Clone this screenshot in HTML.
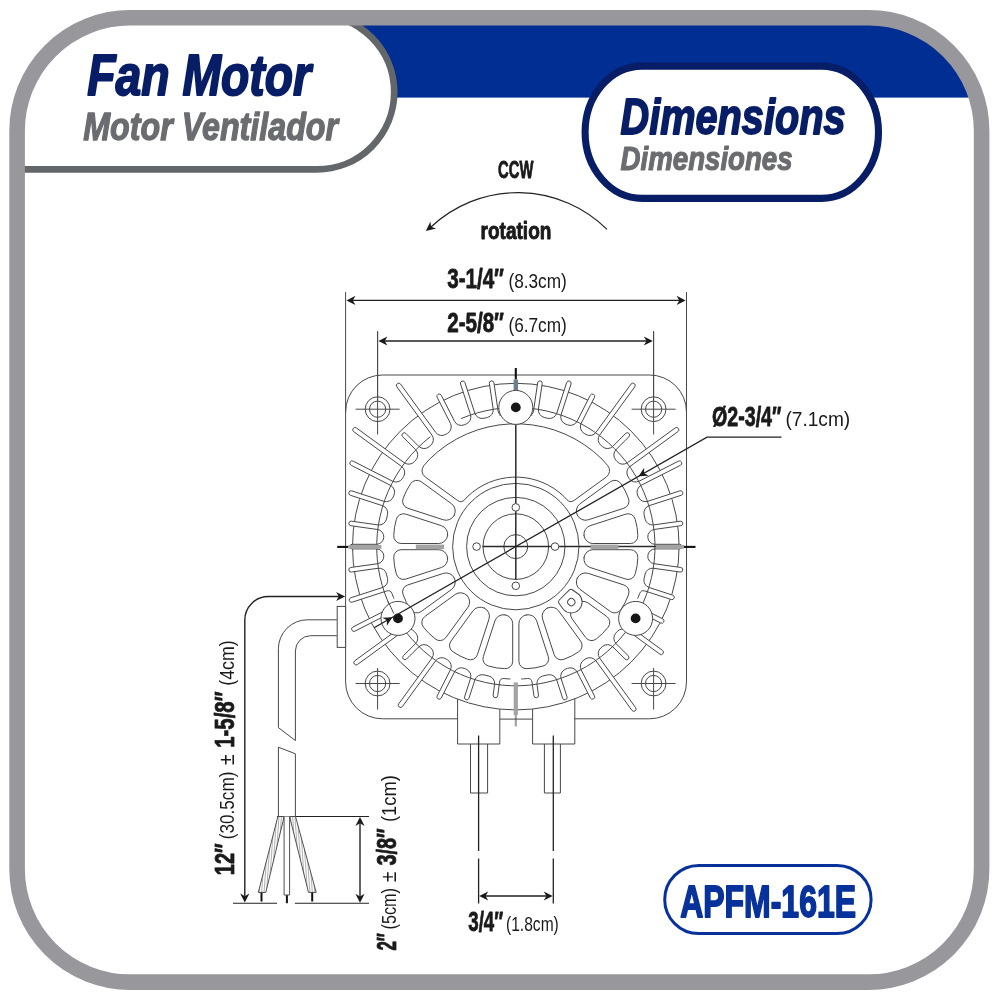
<!DOCTYPE html>
<html><head><meta charset="utf-8"><title>Fan Motor Dimensions</title>
<style>
html,body{margin:0;padding:0;background:#fff;}
body{width:1000px;height:1000px;overflow:hidden;}
svg{display:block;font-family:"Liberation Sans",sans-serif;will-change:transform;}
</style></head><body>
<svg width="1000" height="1000" viewBox="0 0 1000 1000">
<rect x="0" y="0" width="1000" height="1000" fill="#ffffff"/>
<defs><clipPath id="inner"><rect x="17.1" y="17.8" width="964.5" height="964.3" rx="113" ry="113"/></clipPath></defs>
<g clip-path="url(#inner)">
<rect x="10" y="10" width="980" height="87.6" fill="#002e93"/>
<rect x="-100" y="14.8" width="494.2" height="154.6" rx="77.3" ry="77.3" fill="#ffffff" stroke="#63676a" stroke-width="6.7"/>
</g>
<rect x="585.1" y="66.1" width="293.4" height="132.3" rx="57" ry="66.1" fill="#ffffff" stroke="#071d66" stroke-width="7.1"/>
<rect x="17.1" y="17.8" width="964.5" height="964.3" rx="113" ry="113" fill="none" stroke="#98979b" stroke-width="15.6"/>
<text x="87.2" y="95" font-size="58" font-weight="bold" font-style="italic" fill="#071d66" text-anchor="start" textLength="223.8" lengthAdjust="spacingAndGlyphs"  stroke="#071d66" stroke-width="2" stroke-linejoin="round">Fan Motor</text>
<text x="83.2" y="140.2" font-size="38" font-weight="bold" font-style="italic" fill="#6b6c6f" text-anchor="start" textLength="254.9" lengthAdjust="spacingAndGlyphs"  stroke="#6b6c6f" stroke-width="1.3" stroke-linejoin="round">Motor Ventilador</text>
<text x="620.5" y="133.7" font-size="49.2" font-weight="bold" font-style="italic" fill="#071d66" text-anchor="start" textLength="225" lengthAdjust="spacingAndGlyphs"  stroke="#071d66" stroke-width="1.8" stroke-linejoin="round">Dimensions</text>
<text x="620.6" y="170.4" font-size="34" font-weight="bold" font-style="italic" fill="#6b6c6f" text-anchor="start" textLength="172" lengthAdjust="spacingAndGlyphs"  stroke="#6b6c6f" stroke-width="1.2" stroke-linejoin="round">Dimensiones</text>
<rect x="664.7" y="865.4" width="206.4" height="68.2" rx="34.1" ry="34.1" fill="#ffffff" stroke="#08329b" stroke-width="3"/>
<text x="680.2" y="917" font-size="44.4" font-weight="bold" font-style="normal" fill="#08329b" text-anchor="start" textLength="175.8" lengthAdjust="spacingAndGlyphs"  stroke="#08329b" stroke-width="1.8" stroke-linejoin="round">APFM-161E</text>
<g fill="none" stroke="#484848" stroke-width="1" stroke-linecap="round" stroke-linejoin="round">
<path d="M457.6 718.8 L382.6 718.8 A37 37 0 0 1 345.6 681.8 L345.6 412 A37 37 0 0 1 382.6 375 L649.5 375 A37 37 0 0 1 686.5 412 L686.5 681.8 A37 37 0 0 1 649.5 718.8 L574.8 718.8" fill="none" stroke="#484848" stroke-width="1" />
<circle cx="515.8" cy="546.6" r="163.3" fill="none" stroke="#484848" stroke-width="1"/>
<path d="M498.72 415.21 L493.61 380.56 L489.06 381.23 L494.17 415.88 Z" fill="#fff" stroke="none"/>
<path d="M477.05 419.89 L464.22 380.41 L459.84 381.83 L472.67 421.31 Z" fill="#fff" stroke="none"/>
<path d="M457.7 427.52 L440.22 393.19 L436.12 395.28 L453.61 429.6 Z" fill="#fff" stroke="none"/>
<path d="M439.79 438.07 L399.22 382.23 L395.5 384.93 L436.07 440.77 Z" fill="#fff" stroke="none"/>
<path d="M423.75 451.3 L404.29 431.84 L401.04 435.09 L420.5 454.55 Z" fill="#fff" stroke="none"/>
<path d="M409.97 466.87 L354.54 426.59 L351.84 430.32 L407.27 470.59 Z" fill="#fff" stroke="none"/>
<path d="M398.8 484.41 L351.12 460.11 L349.03 464.21 L396.72 488.5 Z" fill="#fff" stroke="none"/>
<path d="M390.51 503.47 L349.6 490.18 L348.18 494.55 L389.09 507.85 Z" fill="#fff" stroke="none"/>
<path d="M384.93 525.88 L349.16 520.86 L348.52 525.41 L384.29 530.44 Z" fill="#fff" stroke="none"/>
<path d="M383.32 544.3 L349.8 544.3 L349.8 548.9 L383.32 548.9 Z" fill="#fff" stroke="none"/>
<path d="M384.29 562.76 L348.52 567.79 L349.16 572.34 L384.93 567.32 Z" fill="#fff" stroke="none"/>
<path d="M389.09 585.35 L348.65 598.49 L350.08 602.87 L390.51 589.73 Z" fill="#fff" stroke="none"/>
<path d="M499.65 415.09 L503.22 414.7 L506.79 414.41 L502.76 414.81 A4.25 4.25 0 0 1 498.13 411.2 L493.94 382.84 A2.3 2.3 0 0 0 491.33 380.9 L491.33 380.9 A2.3 2.3 0 0 0 489.39 383.51 L493.15 408.96 A7.6 7.6 0 0 1 487.37 417.47 L483.85 418.3 A7.6 7.6 0 0 1 474.89 413.25 L464.93 382.59 A2.3 2.3 0 0 0 462.03 381.12 L462.03 381.12 A2.3 2.3 0 0 0 460.55 384.01 L470.5 414.63 A7.6 7.6 0 0 1 466.18 424 L464.2 424.83 A7.6 7.6 0 0 1 454.52 421.26 L441.26 395.24 A2.3 2.3 0 0 0 438.17 394.24 L438.17 394.24 A2.3 2.3 0 0 0 437.16 397.33 L450.42 423.34 A7.6 7.6 0 0 1 447.62 433.27 L445.78 434.4 A7.6 7.6 0 0 1 435.66 432.39 L400.57 384.09 A2.3 2.3 0 0 0 397.36 383.58 L397.36 383.58 A2.3 2.3 0 0 0 396.85 386.8 L431.94 435.09 A7.6 7.6 0 0 1 430.73 445.34 L429.09 446.73 A7.6 7.6 0 0 1 418.78 446.33 L405.92 433.46 A2.3 2.3 0 0 0 402.66 433.46 L402.66 433.46 A2.3 2.3 0 0 0 402.66 436.72 L415.53 449.58 A7.6 7.6 0 0 1 415.93 459.89 L414.54 461.53 A7.6 7.6 0 0 1 404.29 462.74 L356.4 427.95 A2.3 2.3 0 0 0 353.19 428.46 L353.19 428.46 A2.3 2.3 0 0 0 353.7 431.67 L401.59 466.46 A7.6 7.6 0 0 1 403.6 476.58 L402.47 478.42 A7.6 7.6 0 0 1 392.54 481.22 L353.17 461.15 A2.3 2.3 0 0 0 350.07 462.16 L350.07 462.16 A2.3 2.3 0 0 0 351.08 465.25 L390.46 485.32 A7.6 7.6 0 0 1 394.03 495 L393.2 496.98 A7.6 7.6 0 0 1 383.83 501.3 L351.79 490.89 A2.3 2.3 0 0 0 348.89 492.37 L348.89 492.37 A2.3 2.3 0 0 0 350.37 495.27 L382.47 505.7 A7.6 7.6 0 0 1 387.53 514.63 L386.5 519.1 A7.6 7.6 0 0 1 378.03 524.92 L351.44 521.18 A2.3 2.3 0 0 0 348.84 523.14 L348.84 523.14 A2.3 2.3 0 0 0 350.8 525.73 L377.41 529.47 A7.45 7.45 0 0 1 383.8 537.37 L383.8 537.37 A7.45 7.45 0 0 1 376.37 544.3 L352.1 544.3 A2.3 2.3 0 0 0 349.8 546.6 L349.8 546.6 A2.3 2.3 0 0 0 352.1 548.9 L376.37 548.9 A7.45 7.45 0 0 1 383.8 555.83 L383.8 555.83 A7.45 7.45 0 0 1 377.41 563.73 L350.8 567.47 A2.3 2.3 0 0 0 348.84 570.06 L348.84 570.06 A2.3 2.3 0 0 0 351.44 572.02 L378.03 568.28 A7.6 7.6 0 0 1 386.5 574.1 L387.53 578.57 A7.6 7.6 0 0 1 382.47 587.5 L350.84 597.78 A2.3 2.3 0 0 0 349.37 600.68 L349.37 600.68 A2.3 2.3 0 0 0 352.26 602.15 L386.66 590.98 A4.25 4.25 0 0 1 391.95 593.52 L393.39 597.31 L393.61 597.84 L393.83 598.37 " fill="none" stroke="#484848" stroke-width="1" />
<path d="M396.72 604.7 L350.81 628.08 L352.9 632.18 L398.8 608.79 Z" fill="#fff" stroke="none"/>
<path d="M396.72 604.7 L352.86 627.04 A2.3 2.3 0 0 0 351.85 630.13 L351.85 630.13 A2.3 2.3 0 0 0 354.95 631.14 L398.8 608.79 " fill="none" stroke="#484848" stroke-width="1" />
<path d="M407.27 622.61 L352.89 662.12 L355.59 665.84 L409.97 626.33 Z" fill="#fff" stroke="none"/>
<path d="M420.5 638.65 L401.74 657.4 L405 660.66 L423.75 641.9 Z" fill="#fff" stroke="none"/>
<path d="M436.07 652.43 L397.38 705.68 L401.1 708.38 L439.79 655.13 Z" fill="#fff" stroke="none"/>
<path d="M453.61 663.6 L436.12 697.92 L440.22 700.01 L457.7 665.68 Z" fill="#fff" stroke="none"/>
<path d="M472.67 671.89 L463.86 699.01 L468.24 700.43 L477.05 673.31 Z" fill="#fff" stroke="none"/>
<path d="M495.54 677.54 L492.82 697.38 L497.38 698 L500.1 678.17 Z" fill="#fff" stroke="none"/>
<path d="M407.93 623.54 L405.31 619.73 L402.83 615.83 L405.05 619.22 A4.25 4.25 0 0 1 403.99 624.99 L354.75 660.77 A2.3 2.3 0 0 0 354.24 663.98 L354.24 663.98 A2.3 2.3 0 0 0 357.45 664.49 L404.29 630.46 A7.6 7.6 0 0 1 414.54 631.67 L415.93 633.31 A7.6 7.6 0 0 1 415.53 643.62 L403.37 655.78 A2.3 2.3 0 0 0 403.37 659.03 L403.37 659.03 A2.3 2.3 0 0 0 406.62 659.03 L418.78 646.87 A7.6 7.6 0 0 1 429.09 646.47 L430.73 647.86 A7.6 7.6 0 0 1 431.94 658.11 L398.73 703.82 A2.3 2.3 0 0 0 399.24 707.03 L399.24 707.03 A2.3 2.3 0 0 0 402.45 706.52 L435.66 660.81 A7.6 7.6 0 0 1 445.78 658.8 L447.62 659.93 A7.6 7.6 0 0 1 450.42 669.86 L437.16 695.87 A2.3 2.3 0 0 0 438.17 698.96 L438.17 698.96 A2.3 2.3 0 0 0 441.26 697.96 L454.52 671.94 A7.6 7.6 0 0 1 464.2 668.37 L466.18 669.2 A7.6 7.6 0 0 1 470.5 678.57 L464.57 696.82 A2.3 2.3 0 0 0 466.05 699.72 L466.05 699.72 A2.3 2.3 0 0 0 468.95 698.24 L474.9 679.92 A7.6 7.6 0 0 1 483.83 674.86 L488.77 675.99 A7.6 7.6 0 0 1 494.6 684.43 L493.14 695.1 A2.3 2.3 0 0 0 495.1 697.69 L495.1 697.69 A2.3 2.3 0 0 0 497.69 695.72 L499.55 682.18 A4.25 4.25 0 0 1 504.14 678.52 L508.17 678.88 L509.1 678.93 L510.02 678.97 " fill="none" stroke="#484848" stroke-width="1" />
<path d="M641.09 589.73 L673.44 600.24 L674.86 595.86 L642.51 585.35 Z" fill="#fff" stroke="none"/>
<path d="M646.67 567.32 L682.44 572.34 L683.08 567.79 L647.31 562.76 Z" fill="#fff" stroke="none"/>
<path d="M648.28 548.9 L681.8 548.9 L681.8 544.3 L648.28 544.3 Z" fill="#fff" stroke="none"/>
<path d="M647.31 530.44 L683.08 525.41 L682.44 520.86 L646.67 525.88 Z" fill="#fff" stroke="none"/>
<path d="M642.51 507.85 L683.42 494.55 L682 490.18 L641.09 503.47 Z" fill="#fff" stroke="none"/>
<path d="M634.88 488.5 L682.57 464.21 L680.48 460.11 L632.8 484.41 Z" fill="#fff" stroke="none"/>
<path d="M624.33 470.59 L679.76 430.32 L677.06 426.59 L621.63 466.87 Z" fill="#fff" stroke="none"/>
<path d="M611.1 454.55 L630.56 435.09 L627.31 431.84 L607.85 451.3 Z" fill="#fff" stroke="none"/>
<path d="M595.53 440.77 L636.1 384.93 L632.38 382.23 L591.81 438.07 Z" fill="#fff" stroke="none"/>
<path d="M577.99 429.6 L595.48 395.28 L591.38 393.19 L573.9 427.52 Z" fill="#fff" stroke="none"/>
<path d="M558.93 421.31 L571.76 381.83 L567.38 380.41 L554.55 419.89 Z" fill="#fff" stroke="none"/>
<path d="M537.43 415.88 L542.54 381.23 L537.99 380.56 L532.88 415.21 Z" fill="#fff" stroke="none"/>
<path d="M637.77 598.37 L637.99 597.84 L638.21 597.31 L639.65 593.52 A4.25 4.25 0 0 1 644.94 590.98 L671.25 599.53 A2.3 2.3 0 0 0 674.15 598.05 L674.15 598.05 A2.3 2.3 0 0 0 672.67 595.15 L649.13 587.5 A7.6 7.6 0 0 1 644.07 578.57 L645.1 574.1 A7.6 7.6 0 0 1 653.57 568.28 L680.16 572.02 A2.3 2.3 0 0 0 682.76 570.06 L682.76 570.06 A2.3 2.3 0 0 0 680.8 567.47 L654.19 563.73 A7.45 7.45 0 0 1 647.8 555.83 L647.8 555.83 A7.45 7.45 0 0 1 655.23 548.9 L679.5 548.9 A2.3 2.3 0 0 0 681.8 546.6 L681.8 546.6 A2.3 2.3 0 0 0 679.5 544.3 L655.23 544.3 A7.45 7.45 0 0 1 647.8 537.37 L647.8 537.37 A7.45 7.45 0 0 1 654.19 529.47 L680.8 525.73 A2.3 2.3 0 0 0 682.76 523.14 L682.76 523.14 A2.3 2.3 0 0 0 680.16 521.18 L653.57 524.92 A7.6 7.6 0 0 1 645.1 519.1 L644.07 514.63 A7.6 7.6 0 0 1 649.13 505.7 L681.23 495.27 A2.3 2.3 0 0 0 682.71 492.37 L682.71 492.37 A2.3 2.3 0 0 0 679.81 490.89 L647.77 501.3 A7.6 7.6 0 0 1 638.4 496.98 L637.57 495 A7.6 7.6 0 0 1 641.14 485.32 L680.52 465.25 A2.3 2.3 0 0 0 681.53 462.16 L681.53 462.16 A2.3 2.3 0 0 0 678.43 461.15 L639.06 481.22 A7.6 7.6 0 0 1 629.13 478.42 L628 476.58 A7.6 7.6 0 0 1 630.01 466.46 L677.9 431.67 A2.3 2.3 0 0 0 678.41 428.46 L678.41 428.46 A2.3 2.3 0 0 0 675.2 427.95 L627.31 462.74 A7.6 7.6 0 0 1 617.06 461.53 L615.67 459.89 A7.6 7.6 0 0 1 616.07 449.58 L628.94 436.72 A2.3 2.3 0 0 0 628.94 433.46 L628.94 433.46 A2.3 2.3 0 0 0 625.68 433.46 L612.82 446.33 A7.6 7.6 0 0 1 602.51 446.73 L600.87 445.34 A7.6 7.6 0 0 1 599.66 435.09 L634.75 386.8 A2.3 2.3 0 0 0 634.24 383.58 L634.24 383.58 A2.3 2.3 0 0 0 631.03 384.09 L595.94 432.39 A7.6 7.6 0 0 1 585.82 434.4 L583.98 433.27 A7.6 7.6 0 0 1 581.18 423.34 L594.44 397.33 A2.3 2.3 0 0 0 593.43 394.24 L593.43 394.24 A2.3 2.3 0 0 0 590.34 395.24 L577.08 421.26 A7.6 7.6 0 0 1 567.4 424.83 L565.42 424 A7.6 7.6 0 0 1 561.1 414.63 L571.05 384.01 A2.3 2.3 0 0 0 569.57 381.12 L569.57 381.12 A2.3 2.3 0 0 0 566.67 382.59 L556.71 413.25 A7.6 7.6 0 0 1 547.75 418.3 L544.23 417.47 A7.6 7.6 0 0 1 538.45 408.96 L542.21 383.51 A2.3 2.3 0 0 0 540.27 380.9 L540.27 380.9 A2.3 2.3 0 0 0 537.66 382.84 L533.47 411.2 A4.25 4.25 0 0 1 528.84 414.81 L524.81 414.41 L528.38 414.7 L531.95 415.09 " fill="none" stroke="#484848" stroke-width="1" />
<path d="M632.8 608.79 L662.66 624.01 L664.75 619.91 L634.88 604.7 Z" fill="#fff" stroke="none"/>
<path d="M632.8 608.79 L660.61 622.97 A2.3 2.3 0 0 0 663.71 621.96 L663.71 621.96 A2.3 2.3 0 0 0 662.7 618.87 L634.88 604.7 " fill="none" stroke="#484848" stroke-width="1" />
<path d="M531.5 678.17 L534.22 698 L538.78 697.38 L536.06 677.54 Z" fill="#fff" stroke="none"/>
<path d="M554.55 673.31 L563.36 700.43 L567.74 699.01 L558.93 671.89 Z" fill="#fff" stroke="none"/>
<path d="M573.9 665.68 L591.38 700.01 L595.48 697.92 L577.99 663.6 Z" fill="#fff" stroke="none"/>
<path d="M591.81 655.13 L633.26 712.18 L636.98 709.48 L595.53 652.43 Z" fill="#fff" stroke="none"/>
<path d="M607.85 641.9 L626.6 660.66 L629.86 657.4 L611.1 638.65 Z" fill="#fff" stroke="none"/>
<path d="M621.63 626.33 L661.69 655.44 L664.39 651.72 L624.33 622.61 Z" fill="#fff" stroke="none"/>
<path d="M521.58 678.97 L522.5 678.93 L523.43 678.88 L527.46 678.52 A4.25 4.25 0 0 1 532.05 682.18 L533.91 695.72 A2.3 2.3 0 0 0 536.5 697.69 L536.5 697.69 A2.3 2.3 0 0 0 538.46 695.1 L537 684.43 A7.6 7.6 0 0 1 542.83 675.99 L547.77 674.86 A7.6 7.6 0 0 1 556.7 679.92 L562.65 698.24 A2.3 2.3 0 0 0 565.55 699.72 L565.55 699.72 A2.3 2.3 0 0 0 567.03 696.82 L561.1 678.57 A7.6 7.6 0 0 1 565.42 669.2 L567.4 668.37 A7.6 7.6 0 0 1 577.08 671.94 L590.34 697.96 A2.3 2.3 0 0 0 593.43 698.96 L593.43 698.96 A2.3 2.3 0 0 0 594.44 695.87 L581.18 669.86 A7.6 7.6 0 0 1 583.98 659.93 L585.82 658.8 A7.6 7.6 0 0 1 595.94 660.81 L631.91 710.32 A2.3 2.3 0 0 0 635.12 710.83 L635.12 710.83 A2.3 2.3 0 0 0 635.63 707.62 L599.66 658.11 A7.6 7.6 0 0 1 600.87 647.86 L602.51 646.47 A7.6 7.6 0 0 1 612.82 646.87 L624.98 659.03 A2.3 2.3 0 0 0 628.23 659.03 L628.23 659.03 A2.3 2.3 0 0 0 628.23 655.78 L616.07 643.62 A7.6 7.6 0 0 1 615.67 633.31 L617.06 631.67 A7.6 7.6 0 0 1 627.31 630.46 L659.83 654.09 A2.3 2.3 0 0 0 663.04 653.58 L663.04 653.58 A2.3 2.3 0 0 0 662.53 650.36 L627.61 624.99 A4.25 4.25 0 0 1 626.55 619.22 L628.77 615.83 L626.29 619.73 L623.67 623.54 " fill="none" stroke="#484848" stroke-width="1" />
<path d="M430.1 436.91 A139.2 139.2 0 1 0 461.41 418.47" fill="none" stroke="#484848" stroke-width="1" />
<path d="M454.32 515.15 A9 9 0 0 0 451.59 503.78 L421.21 481.71 A7.38 7.38 0 0 0 410.52 483.9 L406.38 490.85 L403.19 498.28 A7.38 7.38 0 0 0 407.7 508.22 L443.41 519.82 A9 9 0 0 0 454.22 515.35 Z" fill="none" stroke="#484848" stroke-width="1" />
<path d="M447.61 535.69 A9 9 0 0 0 441.5 525.72 L405.78 514.11 A7.38 7.38 0 0 0 396.3 519.5 L394.51 527.39 L393.78 535.44 A7.38 7.38 0 0 0 401.13 543.5 L438.68 543.5 A9 9 0 0 0 447.57 535.91 Z" fill="none" stroke="#484848" stroke-width="1" />
<path d="M447.57 557.29 A9 9 0 0 0 438.68 549.7 L401.13 549.7 A7.38 7.38 0 0 0 393.78 557.76 L394.51 565.81 L396.3 573.7 A7.38 7.38 0 0 0 405.78 579.09 L441.5 567.48 A9 9 0 0 0 447.61 557.51 Z" fill="none" stroke="#484848" stroke-width="1" />
<path d="M454.22 577.85 A9 9 0 0 0 443.41 573.38 L407.7 584.98 A7.38 7.38 0 0 0 403.19 594.92 L406.38 602.35 L410.52 609.3 A7.38 7.38 0 0 0 421.21 611.49 L451.59 589.42 A9 9 0 0 0 454.32 578.05 Z" fill="none" stroke="#484848" stroke-width="1" />
<path d="M466.89 595.35 A9 9 0 0 0 455.23 594.44 L424.85 616.51 A7.38 7.38 0 0 0 423.64 627.35 L428.97 633.43 L435.05 638.76 A7.38 7.38 0 0 0 445.89 637.55 L467.96 607.17 A9 9 0 0 0 467.05 595.51 Z" fill="none" stroke="#484848" stroke-width="1" />
<path d="M484.35 608.08 A9 9 0 0 0 472.98 610.81 L450.91 641.19 A7.38 7.38 0 0 0 453.1 651.88 L460.05 656.02 L467.48 659.21 A7.38 7.38 0 0 0 477.42 654.7 L489.02 618.99 A9 9 0 0 0 484.55 608.18 Z" fill="none" stroke="#484848" stroke-width="1" />
<path d="M504.89 614.79 A9 9 0 0 0 494.92 620.9 L483.31 656.62 A7.38 7.38 0 0 0 488.7 666.1 L496.59 667.89 L504.64 668.62 A7.38 7.38 0 0 0 512.7 661.27 L512.7 623.72 A9 9 0 0 0 505.11 614.83 Z" fill="none" stroke="#484848" stroke-width="1" />
<path d="M526.49 614.83 A9 9 0 0 0 518.9 623.72 L518.9 661.27 A7.38 7.38 0 0 0 526.96 668.62 L535.01 667.89 L542.9 666.1 A7.38 7.38 0 0 0 548.29 656.62 L536.68 620.9 A9 9 0 0 0 526.71 614.79 Z" fill="none" stroke="#484848" stroke-width="1" />
<path d="M547.05 608.18 A9 9 0 0 0 542.58 618.99 L554.18 654.7 A7.38 7.38 0 0 0 564.12 659.21 L571.55 656.02 L578.5 651.88 A7.38 7.38 0 0 0 580.69 641.19 L558.62 610.81 A9 9 0 0 0 547.25 608.08 Z" fill="none" stroke="#484848" stroke-width="1" />
<path d="M573.08 607.25 A9 9 0 0 0 572.17 618.91 L585.71 637.55 A7.38 7.38 0 0 0 596.55 638.76 L602.63 633.43 L607.96 627.35 A7.38 7.38 0 0 0 606.75 616.51 L588.11 602.97 A9 9 0 0 0 576.45 603.88 Z" fill="none" stroke="#484848" stroke-width="1" />
<path d="M577.28 578.05 A9 9 0 0 0 580.01 589.42 L610.39 611.49 A7.38 7.38 0 0 0 621.08 609.3 L625.22 602.35 L628.41 594.92 A7.38 7.38 0 0 0 623.9 584.98 L588.19 573.38 A9 9 0 0 0 577.38 577.85 Z" fill="none" stroke="#484848" stroke-width="1" />
<path d="M583.99 557.51 A9 9 0 0 0 590.1 567.48 L625.82 579.09 A7.38 7.38 0 0 0 635.3 573.7 L637.09 565.81 L637.82 557.76 A7.38 7.38 0 0 0 630.47 549.7 L592.92 549.7 A9 9 0 0 0 584.03 557.29 Z" fill="none" stroke="#484848" stroke-width="1" />
<path d="M584.03 535.91 A9 9 0 0 0 592.92 543.5 L630.47 543.5 A7.38 7.38 0 0 0 637.82 535.44 L637.09 527.39 L635.3 519.5 A7.38 7.38 0 0 0 625.82 514.11 L590.1 525.72 A9 9 0 0 0 583.99 535.69 Z" fill="none" stroke="#484848" stroke-width="1" />
<path d="M577.38 515.35 A9 9 0 0 0 588.19 519.82 L623.9 508.22 A7.38 7.38 0 0 0 628.41 498.28 L625.22 490.85 L621.08 483.9 A7.38 7.38 0 0 0 610.39 481.71 L580.01 503.78 A9 9 0 0 0 577.28 515.15 Z" fill="none" stroke="#484848" stroke-width="1" />
<path d="M566.87 499.71 A5.44 5.44 0 0 0 574.07 500.43 L606.36 476.97 A7.79 7.79 0 0 0 607.62 465.51 L601.95 459.09 L593.6 451.59 L584.59 444.88 L575.01 439.02 L564.94 434.06 L554.45 430.04 L543.64 427 L532.6 424.95 L521.42 423.93 L510.18 423.93 L499 424.95 L487.96 427 L477.15 430.04 L466.66 434.06 L456.59 439.02 L447.01 444.88 L438 451.59 L429.65 459.09 L423.98 465.51 A7.79 7.79 0 0 0 425.24 476.97 L457.53 500.43 A5.44 5.44 0 0 0 464.73 499.71 L468.01 496.14 L472.69 492.08 L477.72 488.46 L483.05 485.3 L488.64 482.62 L494.45 480.46 L500.43 478.82 L506.53 477.72 L512.7 477.17 L518.9 477.17 L525.07 477.72 L531.17 478.82 L537.15 480.46 L542.96 482.62 L548.55 485.3 L553.88 488.46 L558.91 492.08 L563.59 496.14 Z" fill="none" stroke="#484848" stroke-width="1" />
<g transform="translate(571.31 602.11) rotate(45)">
<path d="M-8 -9.5 L0 -10.8 A10.8 10.8 0 0 1 0 10.8 L-8 9.5 Q-10 9.2 -10 7 L-10 -7 Q-10 -9.2 -8 -9.5 Z" fill="#fff"/>
<circle cx="0" cy="0" r="3.6" fill="#fff"/>
</g>
<circle cx="515.8" cy="546.6" r="12" fill="none" stroke="#484848" stroke-width="1"/>
<circle cx="515.8" cy="546.6" r="32.8" fill="none" stroke="#484848" stroke-width="1"/>
<circle cx="515.8" cy="546.6" r="49.2" fill="none" stroke="#484848" stroke-width="1"/>
<circle cx="515.8" cy="546.6" r="63.2" fill="none" stroke="#484848" stroke-width="1"/>
</g>
<line x1="482.5" y1="546.6" x2="684" y2="546.6" stroke="#2a2a2a" stroke-width="1.5" />
<line x1="515.8" y1="424" x2="515.8" y2="579.8" stroke="#2a2a2a" stroke-width="1.5" />
<circle cx="555" cy="546.6" r="3.8" fill="#fff" stroke="#484848" stroke-width="1"/>
<circle cx="515.8" cy="507.4" r="3.8" fill="#fff" stroke="#484848" stroke-width="1"/>
<circle cx="476.6" cy="546.6" r="3.8" fill="#fff" stroke="#484848" stroke-width="1"/>
<circle cx="515.8" cy="585.8" r="3.8" fill="#fff" stroke="#484848" stroke-width="1"/>
<line x1="337.2" y1="546.9" x2="348.2" y2="546.9" stroke="#111" stroke-width="2.1" />
<line x1="348.2" y1="546.9" x2="381.4" y2="546.9" stroke="#a3a3a3" stroke-width="3.7" />
<line x1="415.8" y1="546.9" x2="444.2" y2="546.9" stroke="#a3a3a3" stroke-width="4.6" />
<line x1="590.6" y1="546.9" x2="618.4" y2="546.9" stroke="#a3a3a3" stroke-width="4.6" />
<line x1="656" y1="546.9" x2="684" y2="546.9" stroke="#a3a3a3" stroke-width="3.7" />
<line x1="684" y1="546.9" x2="695.5" y2="546.9" stroke="#111" stroke-width="2.1" />
<line x1="515.8" y1="368" x2="515.8" y2="379.5" stroke="#111" stroke-width="2.1" />
<line x1="515.8" y1="379.5" x2="515.8" y2="390" stroke="#6f7d8c" stroke-width="4.4" />
<line x1="515.8" y1="682.4" x2="515.8" y2="715" stroke="#a3a3a3" stroke-width="4.2" />
<line x1="515.8" y1="715" x2="515.8" y2="726.4" stroke="#a3a3a3" stroke-width="2.2" />
<circle cx="515.8" cy="407.4" r="17" fill="#fff" stroke="#484848" stroke-width="1"/>
<circle cx="398" cy="618.4" r="17" fill="#fff" stroke="#484848" stroke-width="1"/>
<circle cx="635.6" cy="618.4" r="17" fill="#fff" stroke="#484848" stroke-width="1"/>
<path d="M387.86 601.44 A139.2 139.2 0 0 1 393.82 613.66" fill="none" stroke="#484848" stroke-width="1" />
<circle cx="515.8" cy="407.4" r="4.9" fill="#161616" stroke="none" stroke-width="0"/>
<circle cx="398" cy="618.4" r="4.9" fill="#161616" stroke="none" stroke-width="0"/>
<circle cx="635.6" cy="618.4" r="4.9" fill="#161616" stroke="none" stroke-width="0"/>
<circle cx="377.6" cy="409.2" r="12.4" fill="none" stroke="#484848" stroke-width="1"/>
<circle cx="377.6" cy="409.2" r="8.1" fill="none" stroke="#484848" stroke-width="1"/>
<line x1="355.6" y1="409.2" x2="399.6" y2="409.2" stroke="#484848" stroke-width="1" />
<line x1="377.6" y1="332" x2="377.6" y2="434.5" stroke="#484848" stroke-width="1" />
<circle cx="653.6" cy="409.2" r="12.4" fill="none" stroke="#484848" stroke-width="1"/>
<circle cx="653.6" cy="409.2" r="8.1" fill="none" stroke="#484848" stroke-width="1"/>
<line x1="631.6" y1="409.2" x2="675.6" y2="409.2" stroke="#484848" stroke-width="1" />
<line x1="653.6" y1="332" x2="653.6" y2="434.5" stroke="#484848" stroke-width="1" />
<circle cx="377.6" cy="683.5" r="12.4" fill="none" stroke="#484848" stroke-width="1"/>
<circle cx="377.6" cy="683.5" r="8.1" fill="none" stroke="#484848" stroke-width="1"/>
<line x1="355.6" y1="683.5" x2="399.6" y2="683.5" stroke="#484848" stroke-width="1" />
<line x1="377.6" y1="668" x2="377.6" y2="709.5" stroke="#484848" stroke-width="1" />
<circle cx="653.6" cy="683.5" r="12.4" fill="none" stroke="#484848" stroke-width="1"/>
<circle cx="653.6" cy="683.5" r="8.1" fill="none" stroke="#484848" stroke-width="1"/>
<line x1="631.6" y1="683.5" x2="675.6" y2="683.5" stroke="#484848" stroke-width="1" />
<line x1="653.6" y1="668" x2="653.6" y2="709.5" stroke="#484848" stroke-width="1" />
<g fill="none" stroke="#484848" stroke-width="1">
<path d="M457.6 699.18 L457.6 744 L499.8 744 L499.8 709.11"/>
<path d="M532.6 709.03 L532.6 744 L574.8 744 L574.8 698.87"/>
<path d="M499.8 719.1 L532.6 719.1"/>
<path d="M470.5 744 L470.5 793 L487.6 793 L487.6 744"/>
<path d="M544.4 744 L544.4 793 L560.4 793 L560.4 744"/>
</g>
<text x="498.1" y="178.3" font-size="23.6" font-weight="bold" font-style="normal" fill="#1a1a1a" text-anchor="start" textLength="35.2" lengthAdjust="spacingAndGlyphs"  stroke="#1a1a1a" stroke-width="0.9" stroke-linejoin="round">CCW</text>
<text x="480.6" y="238.6" font-size="23.5" font-weight="bold" font-style="normal" fill="#1a1a1a" text-anchor="start" textLength="70.8" lengthAdjust="spacingAndGlyphs"  stroke="#1a1a1a" stroke-width="0.9" stroke-linejoin="round">rotation</text>
<path d="M607 229.4 A126.7 126.7 0 0 0 431 227" fill="none" stroke="#222222" stroke-width="1.2" />
<path d="M425.8 231 L430.43 221.46 L431.02 226.77 L436.09 228.46 Z" fill="#1a1a1a"/>
<line x1="345.6" y1="292" x2="345.6" y2="412" stroke="#484848" stroke-width="1" />
<line x1="686.5" y1="292" x2="686.5" y2="412" stroke="#484848" stroke-width="1" />
<line x1="348.6" y1="300.4" x2="683.5" y2="300.4" stroke="#222222" stroke-width="1.4" />
<path d="M346.5 300.4 L355.5 295.8 L352.8 300.4 L355.5 305 Z" fill="#1a1a1a"/>
<path d="M685.6 300.4 L676.6 305 L679.3 300.4 L676.6 295.8 Z" fill="#1a1a1a"/>
<text x="447.2" y="287.9" font-size="27" font-weight="bold" font-style="normal" fill="#1a1a1a" text-anchor="start" textLength="56.8" lengthAdjust="spacingAndGlyphs"  stroke="#1a1a1a" stroke-width="0.8" stroke-linejoin="round">3-1/4&#8243;</text>
<text x="508.4" y="288.2" font-size="19.3" font-weight="normal" font-style="normal" fill="#1a1a1a" text-anchor="start" textLength="58.4" lengthAdjust="spacingAndGlyphs" >(8.3cm)</text>
<line x1="377.6" y1="331" x2="377.6" y2="400" stroke="#484848" stroke-width="1" />
<line x1="653.6" y1="331" x2="653.6" y2="400" stroke="#484848" stroke-width="1" />
<line x1="380" y1="341" x2="651" y2="341" stroke="#222222" stroke-width="1.4" />
<path d="M378.4 341 L387.4 336.4 L384.7 341 L387.4 345.6 Z" fill="#1a1a1a"/>
<path d="M652.8 341 L643.8 345.6 L646.5 341 L643.8 336.4 Z" fill="#1a1a1a"/>
<text x="447.2" y="331.9" font-size="27" font-weight="bold" font-style="normal" fill="#1a1a1a" text-anchor="start" textLength="56.8" lengthAdjust="spacingAndGlyphs"  stroke="#1a1a1a" stroke-width="0.8" stroke-linejoin="round">2-5/8&#8243;</text>
<text x="508.4" y="332.2" font-size="19.3" font-weight="normal" font-style="normal" fill="#1a1a1a" text-anchor="start" textLength="58.4" lengthAdjust="spacingAndGlyphs" >(6.7cm)</text>
<path d="M781.5 437.2 L707 437.2 L374.1 627.7" fill="none" stroke="#222222" stroke-width="1.3" />
<path d="M638.6 476.3 L644.12 467.84 L644.07 473.17 L648.7 475.82 Z" fill="#1a1a1a"/>
<path d="M392.4 617.2 L386.88 625.66 L386.93 620.33 L382.3 617.68 Z" fill="#1a1a1a"/>
<text x="712" y="426.1" font-size="27" font-weight="bold" font-style="normal" fill="#1a1a1a" text-anchor="start" textLength="69.4" lengthAdjust="spacingAndGlyphs"  stroke="#1a1a1a" stroke-width="0.8" stroke-linejoin="round">&#216;2-3/4&#8243;</text>
<text x="785.4" y="426.4" font-size="20.4" font-weight="normal" font-style="normal" fill="#1a1a1a" text-anchor="start" textLength="64.8" lengthAdjust="spacingAndGlyphs" >(7.1cm)</text>
<line x1="478.6" y1="735.5" x2="478.6" y2="851" stroke="#222222" stroke-width="1.3" />
<line x1="478.6" y1="858.5" x2="478.6" y2="903.5" stroke="#222222" stroke-width="1.3" />
<line x1="553.3" y1="735.5" x2="553.3" y2="851" stroke="#222222" stroke-width="1.3" />
<line x1="553.3" y1="858.5" x2="553.3" y2="903.5" stroke="#222222" stroke-width="1.3" />
<line x1="482" y1="896" x2="550" y2="896" stroke="#222222" stroke-width="1.4" />
<path d="M479.2 896 L488.2 891.4 L485.5 896 L488.2 900.6 Z" fill="#1a1a1a"/>
<path d="M552.7 896 L543.7 900.6 L546.4 896 L543.7 891.4 Z" fill="#1a1a1a"/>
<text x="468.3" y="931.1" font-size="27" font-weight="bold" font-style="normal" fill="#1a1a1a" text-anchor="start" textLength="34.9" lengthAdjust="spacingAndGlyphs"  stroke="#1a1a1a" stroke-width="0.8" stroke-linejoin="round">3/4&#8243;</text>
<text x="506" y="931.3" font-size="19.3" font-weight="normal" font-style="normal" fill="#1a1a1a" text-anchor="start" textLength="52.8" lengthAdjust="spacingAndGlyphs" >(1.8cm)</text>
<g fill="none" stroke="#484848" stroke-width="1">
<rect x="337.2" y="606.4" width="8.4" height="41" fill="#fff"/>
<path d="M336.8 619.8 L307.4 619.8 A29 29 0 0 0 278.4 648.8 L278.4 727.6 L295.4 740.6 L295.4 651 A15.3 15.3 0 0 1 310.7 635.7 L336.8 635.7"/>
<path d="M278.4 747.2 L278.4 816.5 L295.4 816.5 L295.4 753.8 Z"/>
</g>
<line x1="277" y1="816.5" x2="369" y2="816.5" stroke="#222222" stroke-width="1.1" />
<line x1="233" y1="903.2" x2="277" y2="903.2" stroke="#222222" stroke-width="1.1" />
<line x1="294.9" y1="903.2" x2="369" y2="903.2" stroke="#222222" stroke-width="1.1" />
<defs><clipPath id="w1"><polygon points="277.9 816.5 284.2 816.5 265.8 892.4 258.3 892.4"/></clipPath></defs>
<polygon points="277.9 816.5 284.2 816.5 265.8 892.4 258.3 892.4" fill="#fff" stroke="none"/>
<path d="M195.54 909.28 L203.91 789.57 M197.93 909.45 L206.3 789.74 M200.33 909.62 L208.7 789.91 M202.72 909.78 L211.09 790.08 M205.12 909.95 L213.49 790.24 M207.51 910.12 L215.88 790.41 M209.9 910.29 L218.28 790.58 M212.3 910.45 L220.67 790.75 M214.69 910.62 L223.06 790.91 M217.09 910.79 L225.46 791.08 M219.48 910.96 L227.85 791.25 M221.88 911.12 L230.25 791.42 M224.27 911.29 L232.64 791.58 M226.66 911.46 L235.03 791.75 M229.06 911.63 L237.43 791.92 M231.45 911.79 L239.82 792.08 M233.85 911.96 L242.22 792.25 M236.24 912.13 L244.61 792.42 M238.63 912.29 L247.01 792.59 M241.03 912.46 L249.4 792.75 M243.42 912.63 L251.79 792.92 M245.82 912.8 L254.19 793.09 M248.21 912.96 L256.58 793.26 M250.61 913.13 L258.98 793.42 M253 913.3 L261.37 793.59 M255.39 913.47 L263.76 793.76 M257.79 913.63 L266.16 793.93 M260.18 913.8 L268.55 794.09 M262.58 913.97 L270.95 794.26 M264.97 914.14 L273.34 794.43 M267.36 914.3 L275.74 794.6 M269.76 914.47 L278.13 794.76 M272.15 914.64 L280.52 794.93 M274.55 914.81 L282.92 795.1 M276.94 914.97 L285.31 795.27 M279.34 915.14 L287.71 795.43 M281.73 915.31 L290.1 795.6 M284.12 915.48 L292.49 795.77 M286.52 915.64 L294.89 795.94 M288.91 915.81 L297.28 796.1 M291.31 915.98 L299.68 796.27 M293.7 916.15 L302.07 796.44 M296.09 916.31 L304.47 796.61 M298.49 916.48 L306.86 796.77 M300.88 916.65 L309.25 796.94 M303.28 916.82 L311.65 797.11 M305.67 916.98 L314.04 797.27 M308.07 917.15 L316.44 797.44 M310.46 917.32 L318.83 797.61 M312.85 917.48 L321.22 797.78 M315.25 917.65 L323.62 797.94 M317.64 917.82 L326.01 798.11 M320.04 917.99 L328.41 798.28 M322.43 918.15 L330.8 798.45 M324.82 918.32 L333.2 798.61 M327.22 918.49 L335.59 798.78 M329.61 918.66 L337.98 798.95 M332.01 918.82 L340.38 799.12 M334.4 918.99 L342.77 799.28 M336.8 919.16 L345.17 799.45 M339.19 919.33 L347.56 799.62" stroke="#8c8c8c" stroke-width="0.7" fill="none" clip-path="url(#w1)"/>
<polygon points="277.9 816.5 284.2 816.5 265.8 892.4 258.3 892.4" fill="none" stroke="#484848" stroke-width="0.95"/>
<defs><clipPath id="w2"><polygon points="289.6 816.5 295.5 816.5 316.2 892.4 308.5 892.4"/></clipPath></defs>
<polygon points="289.6 816.5 295.5 816.5 316.2 892.4 308.5 892.4" fill="#fff" stroke="none"/>
<path d="M234.81 919.33 L226.44 799.62 M237.2 919.16 L228.83 799.45 M239.6 918.99 L231.23 799.28 M241.99 918.82 L233.62 799.12 M244.39 918.66 L236.02 798.95 M246.78 918.49 L238.41 798.78 M249.18 918.32 L240.8 798.61 M251.57 918.15 L243.2 798.45 M253.96 917.99 L245.59 798.28 M256.36 917.82 L247.99 798.11 M258.75 917.65 L250.38 797.94 M261.15 917.48 L252.78 797.78 M263.54 917.32 L255.17 797.61 M265.93 917.15 L257.56 797.44 M268.33 916.98 L259.96 797.27 M270.72 916.82 L262.35 797.11 M273.12 916.65 L264.75 796.94 M275.51 916.48 L267.14 796.77 M277.91 916.31 L269.53 796.61 M280.3 916.15 L271.93 796.44 M282.69 915.98 L274.32 796.27 M285.09 915.81 L276.72 796.1 M287.48 915.64 L279.11 795.94 M289.88 915.48 L281.51 795.77 M292.27 915.31 L283.9 795.6 M294.66 915.14 L286.29 795.43 M297.06 914.97 L288.69 795.27 M299.45 914.81 L291.08 795.1 M301.85 914.64 L293.48 794.93 M304.24 914.47 L295.87 794.76 M306.64 914.3 L298.26 794.6 M309.03 914.14 L300.66 794.43 M311.42 913.97 L303.05 794.26 M313.82 913.8 L305.45 794.09 M316.21 913.63 L307.84 793.93 M318.61 913.47 L310.24 793.76 M321 913.3 L312.63 793.59 M323.39 913.13 L315.02 793.42 M325.79 912.96 L317.42 793.26 M328.18 912.8 L319.81 793.09 M330.58 912.63 L322.21 792.92 M332.97 912.46 L324.6 792.75 M335.37 912.29 L326.99 792.59 M337.76 912.13 L329.39 792.42 M340.15 911.96 L331.78 792.25 M342.55 911.79 L334.18 792.08 M344.94 911.63 L336.57 791.92 M347.34 911.46 L338.97 791.75 M349.73 911.29 L341.36 791.58 M352.12 911.12 L343.75 791.42 M354.52 910.96 L346.15 791.25 M356.91 910.79 L348.54 791.08 M359.31 910.62 L350.94 790.91 M361.7 910.45 L353.33 790.75 M364.1 910.29 L355.72 790.58 M366.49 910.12 L358.12 790.41 M368.88 909.95 L360.51 790.24 M371.28 909.78 L362.91 790.08 M373.67 909.62 L365.3 789.91 M376.07 909.45 L367.7 789.74 M378.46 909.28 L370.09 789.57" stroke="#8c8c8c" stroke-width="0.7" fill="none" clip-path="url(#w2)"/>
<polygon points="289.6 816.5 295.5 816.5 316.2 892.4 308.5 892.4" fill="none" stroke="#484848" stroke-width="0.95"/>
<path d="M284.1 816.5 L284.1 895 L289.6 895 L289.6 816.5" fill="#fff" stroke="#484848" stroke-width="0.95"/>
<line x1="261.5" y1="892.6" x2="261.5" y2="901.5" stroke="#111" stroke-width="2" />
<line x1="286.9" y1="895.2" x2="286.9" y2="903.2" stroke="#111" stroke-width="2" />
<line x1="312.2" y1="892.6" x2="312.2" y2="901.5" stroke="#111" stroke-width="2" />
<line x1="360" y1="820" x2="360" y2="899" stroke="#222222" stroke-width="1.4" />
<path d="M360 817 L364.6 826 L360 823.3 L355.4 826 Z" fill="#1a1a1a"/>
<path d="M360 902.8 L355.4 893.8 L360 896.5 L364.6 893.8 Z" fill="#1a1a1a"/>
<path d="M244.8 899 L244.8 620 A23.5 23.5 0 0 1 268.3 596.5 L341 596.5" fill="none" stroke="#222222" stroke-width="1.4" />
<path d="M244.8 902.6 L240.2 893.6 L244.8 896.3 L249.4 893.6 Z" fill="#1a1a1a"/>
<path d="M345.1 596.5 L336.1 601.1 L338.8 596.5 L336.1 591.9 Z" fill="#1a1a1a"/>
<g transform="translate(234.2 875.6) rotate(-90)">
<text x="0.4" y="0" font-size="27" font-weight="bold" font-style="normal" fill="#1a1a1a" text-anchor="start" textLength="31.8" lengthAdjust="spacingAndGlyphs"  stroke="#1a1a1a" stroke-width="0.8" stroke-linejoin="round">12&#8243;</text>
<text x="36.4" y="0" font-size="19.3" font-weight="normal" font-style="normal" fill="#1a1a1a" text-anchor="start" textLength="67.6" lengthAdjust="spacingAndGlyphs" >(30.5cm)</text>
<text x="110.5" y="0" font-size="22" font-weight="normal" font-style="normal" fill="#1a1a1a" text-anchor="start" textLength="10.5" lengthAdjust="spacingAndGlyphs" >&#177;</text>
<text x="127.8" y="0" font-size="27" font-weight="bold" font-style="normal" fill="#1a1a1a" text-anchor="start" textLength="56.2" lengthAdjust="spacingAndGlyphs"  stroke="#1a1a1a" stroke-width="0.8" stroke-linejoin="round">1-5/8&#8243;</text>
<text x="189.8" y="0" font-size="19.3" font-weight="normal" font-style="normal" fill="#1a1a1a" text-anchor="start" textLength="45.5" lengthAdjust="spacingAndGlyphs" >(4cm)</text>
</g>
<g transform="translate(396.2 951) rotate(-90)">
<text x="0.4" y="0" font-size="27" font-weight="bold" font-style="normal" fill="#1a1a1a" text-anchor="start" textLength="17.4" lengthAdjust="spacingAndGlyphs"  stroke="#1a1a1a" stroke-width="0.8" stroke-linejoin="round">2&#8243;</text>
<text x="21.5" y="0" font-size="19.3" font-weight="normal" font-style="normal" fill="#1a1a1a" text-anchor="start" textLength="41.5" lengthAdjust="spacingAndGlyphs" >(5cm)</text>
<text x="69" y="0" font-size="22" font-weight="normal" font-style="normal" fill="#1a1a1a" text-anchor="start" textLength="10.3" lengthAdjust="spacingAndGlyphs" >&#177;</text>
<text x="85.4" y="0" font-size="27" font-weight="bold" font-style="normal" fill="#1a1a1a" text-anchor="start" textLength="37.2" lengthAdjust="spacingAndGlyphs"  stroke="#1a1a1a" stroke-width="0.8" stroke-linejoin="round">3/8&#8243;</text>
<text x="129" y="0" font-size="19.3" font-weight="normal" font-style="normal" fill="#1a1a1a" text-anchor="start" textLength="47" lengthAdjust="spacingAndGlyphs" >(1cm)</text>
</g>
</svg>
</body></html>
